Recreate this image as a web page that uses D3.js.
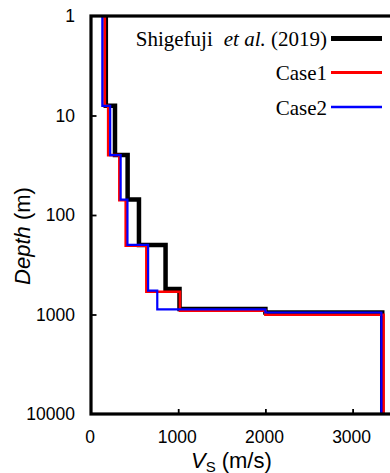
<!DOCTYPE html>
<html>
<head>
<meta charset="utf-8">
<script src="https://cdn.jsdelivr.net/npm/d3@7"></script>
<style>
  html, body { margin: 0; padding: 0; background: #fff; }
  svg { display: block; }
</style>
</head>
<body>
<svg id="chart" width="390" height="473"></svg>
<script>
// Shear-wave velocity profiles: layer boundaries (m) and layer Vs (m/s)
const seriesNames = ["Shigefuji", "Case1", "Case2"];
const seriesColors = ["#000000", "#ff0000", "#0000ff"];

const shigefujiDepth = [1, 8, 25, 70, 200, 555, 880, 955, 10000];
const shigefujiVs    = [170, 275, 420, 550, 855, 1015, 2000, 3340];

const case1Depth = [1, 8, 25, 71, 203, 590, 915, 1005, 10000];
const case1Vs    = [158, 197, 325, 398, 635, 1020, 2000, 3355];

const case2Depth = [1, 8, 25, 70, 200, 575, 890, 955, 10000];
const case2Vs    = [130, 220, 340, 418, 655, 760, 2000, 3330];

const xTicks = [0, 1000, 2000, 3000];
const yTicks = [1, 10, 100, 1000, 10000];
const yTickLabels = ["1", "10", "100", "1000", "10000"];

const svg = d3.select("#chart");
const plotLeft = 91, plotTop = 16, plotBottom = 414, plotRight = 396.2;

const x = d3.scaleLinear().domain([0, 3500]).range([plotLeft, plotRight]);
const y = d3.scaleLog().domain([1, 10000]).range([plotTop, plotBottom]);

const sans = "'Liberation Sans', Arial, sans-serif";
const serif = "'Liberation Serif', 'Times New Roman', serif";

// step profile: each layer is a vertical segment at its Vs
function stepPoints(depths, vs) {
  const pts = [];
  vs.forEach((v, i) => {
    pts.push([v, depths[i]]);
    pts.push([v, depths[i + 1]]);
  });
  return pts;
}

const line = d3.line().x(d => x(d[0])).y(d => y(d[1]));

const profiles = [
  { name: seriesNames[0], pts: stepPoints(shigefujiDepth, shigefujiVs), color: seriesColors[0], w: 4.5 },
  { name: seriesNames[1], pts: stepPoints(case1Depth, case1Vs), color: seriesColors[1], w: 2.6 },
  { name: seriesNames[2], pts: stepPoints(case2Depth, case2Vs), color: seriesColors[2], w: 2.2 }
];

svg.append("clipPath").attr("id", "plotClip")
  .append("rect").attr("x", plotLeft).attr("y", plotTop)
  .attr("width", plotRight - plotLeft).attr("height", plotBottom - plotTop);

svg.append("g").attr("clip-path", "url(#plotClip)")
  .selectAll("path").data(profiles).join("path")
  .attr("d", d => line(d.pts))
  .attr("fill", "none")
  .attr("stroke", d => d.color)
  .attr("stroke-width", d => d.w)
  .attr("stroke-linejoin", "miter")
  .attr("stroke-linecap", "butt");

// axes (ticks point inward)
const yAxis = d3.axisLeft(y).tickValues(yTicks)
  .tickFormat((d, i) => yTickLabels[i]).tickSize(-5.5).tickPadding(16);
const gy = svg.append("g").attr("transform", `translate(${plotLeft},0)`).call(yAxis);
gy.select(".domain").remove();
gy.selectAll(".tick line").attr("stroke-width", 1.8)
  .attr("display", d => (d === 1 || d === 10000) ? "none" : null);
gy.selectAll(".tick text").attr("font-family", sans).attr("font-size", 17.5).attr("fill", "#000");

const xAxis = d3.axisBottom(x).tickValues(xTicks)
  .tickFormat(d3.format("d")).tickSize(-5).tickPadding(16.5);
const gx = svg.append("g").attr("transform", `translate(0,${plotBottom})`).call(xAxis);
gx.select(".domain").remove();
gx.selectAll(".tick line").attr("stroke-width", 1.8)
  .attr("display", d => d === 0 ? "none" : null);
gx.selectAll(".tick text").attr("font-family", sans).attr("font-size", 17.5)
  .attr("fill", "#000").attr("dx", -1.5);

// frame
svg.append("rect").attr("x", plotLeft).attr("y", plotTop)
  .attr("width", plotRight - plotLeft).attr("height", plotBottom - plotTop)
  .attr("fill", "none").attr("stroke", "#000").attr("stroke-width", 3.2);

// axis titles
const xt = svg.append("text").attr("x", 191).attr("y", 467.5)
  .attr("font-family", sans).attr("font-size", 22).attr("fill", "#000");
xt.append("tspan").attr("font-style", "italic").text("V");
xt.append("tspan").attr("font-size", 15).attr("dy", 4).text("S");
xt.append("tspan").attr("dy", -4).attr("dx", 6).text("(m/s)");

const yt = svg.append("text")
  .attr("transform", "translate(30,236) rotate(-90)")
  .attr("text-anchor", "middle")
  .attr("font-family", sans).attr("font-size", 22).attr("fill", "#000");
yt.append("tspan").attr("font-style", "italic").text("Depth");
yt.append("tspan").text(" (m)");

// legend
const legendY = [38.5, 72.5, 107];
const lg = svg.append("g");
profiles.forEach((p, i) => {
  lg.append("line")
    .attr("x1", 331).attr("x2", 382)
    .attr("y1", legendY[i]).attr("y2", legendY[i])
    .attr("stroke", p.color).attr("stroke-width", i === 0 ? 5 : p.w + 0.4);
});
const t0 = lg.append("text").attr("x", 327).attr("y", legendY[0] + 7)
  .attr("text-anchor", "end").attr("font-family", serif).attr("font-size", 21).attr("fill", "#000");
t0.append("tspan").text("Shigefuji");
t0.append("tspan").attr("dx", 11).attr("font-style", "italic").text("et al.");
t0.append("tspan").text(" (2019)");
[1, 2].forEach(i => {
  lg.append("text").attr("x", 327).attr("y", legendY[i] + 7.5)
    .attr("text-anchor", "end").attr("font-family", serif).attr("font-size", 21)
    .attr("fill", "#000").text(seriesNames[i]);
});
</script>
</body>
</html>
